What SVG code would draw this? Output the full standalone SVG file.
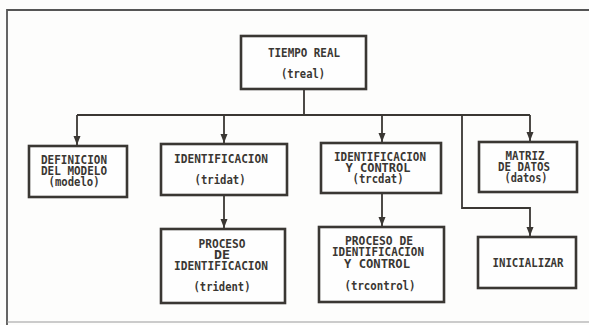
<svg xmlns="http://www.w3.org/2000/svg" width="589" height="325" viewBox="0 0 589 325">
<style>
.box{fill:#fefefe;stroke:#3a3733;stroke-width:2.6}
.ln{fill:none;stroke:#3a3733;stroke-width:1.8}
text{font-family:"DejaVu Sans Mono","Liberation Mono",monospace;font-weight:bold;font-size:12px;fill:#3a3733;text-anchor:middle}
</style>
<defs>
<marker id="ar" markerWidth="8" markerHeight="10" refX="4" refY="9" orient="auto-start-reverse" markerUnits="userSpaceOnUse" viewBox="0 0 8 10">
<path d="M0.5,0 L7.5,0 L4,10 Z" fill="#3a3733" transform="rotate(0)"/>
</marker>
</defs>
<rect width="589" height="325" fill="#fdfdfc"/>
<g id="frame" fill="none" stroke="#555" stroke-width="1.8">
<path d="M7,325 L7,10 L589,10"/>
<path d="M7,322 L589,322" stroke="#999" stroke-width="1.2"/>
</g>
<g id="connectors">
<path class="ln" d="M304,89 V115 M77,115 H530"/>
<path class="ln" d="M77,115 V145"/>
<path class="ln" d="M224,115 V143"/>
<path class="ln" d="M382,115 V142"/>
<path class="ln" d="M530,115 V141"/>
<path class="ln" d="M462,115 V208 H530 V236"/>
<path class="ln" d="M224,195 V228"/>
<path class="ln" d="M382,193 V226"/>
<g fill="#3a3733">
<path d="M73.5,136 L80.5,136 L77,145 Z"/>
<path d="M220.5,134 L227.5,134 L224,143 Z"/>
<path d="M378.5,133 L385.5,133 L382,142 Z"/>
<path d="M526.5,132 L533.5,132 L530,141 Z"/>
<path d="M526.5,227 L533.5,227 L530,236 Z"/>
<path d="M220.5,219 L227.5,219 L224,228 Z"/>
<path d="M378.5,217 L385.5,217 L382,226 Z"/>
</g>
</g>
<g id="treal">
<rect class="box" x="241" y="36" width="125" height="53"/>
<text x="304" y="57" textLength="72" lengthAdjust="spacingAndGlyphs">TIEMPO REAL</text>
<text x="303" y="78" textLength="44" lengthAdjust="spacingAndGlyphs">(treal)</text>
</g>
<g id="modelo">
<rect class="box" x="29" y="146" width="98" height="51"/>
<text x="74" y="164" textLength="66" lengthAdjust="spacingAndGlyphs">DEFINICION</text>
<text x="74" y="175" textLength="66" lengthAdjust="spacingAndGlyphs">DEL MODELO</text>
<text x="74" y="186" textLength="51" lengthAdjust="spacingAndGlyphs">(modelo)</text>
</g>
<g id="tridat">
<rect class="box" x="161" y="144" width="126" height="51"/>
<text x="221" y="163" textLength="94" lengthAdjust="spacingAndGlyphs">IDENTIFICACION</text>
<text x="220" y="184" textLength="51" lengthAdjust="spacingAndGlyphs">(tridat)</text>
</g>
<g id="trcdat">
<rect class="box" x="321" y="143" width="120" height="50"/>
<text x="380" y="161" textLength="92" lengthAdjust="spacingAndGlyphs">IDENTIFICACION</text>
<text x="378" y="172" textLength="65" lengthAdjust="spacingAndGlyphs">Y CONTROL</text>
<text x="378" y="183" textLength="51" lengthAdjust="spacingAndGlyphs">(trcdat)</text>
</g>
<g id="datos">
<rect class="box" x="479" y="142" width="98" height="50"/>
<text x="525" y="160" textLength="39" lengthAdjust="spacingAndGlyphs">MATRIZ</text>
<text x="524" y="171" textLength="52" lengthAdjust="spacingAndGlyphs">DE DATOS</text>
<text x="526" y="182" textLength="43" lengthAdjust="spacingAndGlyphs">(datos)</text>
</g>
<g id="trident">
<rect class="box" x="161" y="229" width="124" height="74"/>
<text x="222" y="248" textLength="47" lengthAdjust="spacingAndGlyphs">PROCESO</text>
<text x="222" y="259" textLength="16" lengthAdjust="spacingAndGlyphs">DE</text>
<text x="221" y="270" textLength="94" lengthAdjust="spacingAndGlyphs">IDENTIFICACION</text>
<text x="222" y="291" textLength="57" lengthAdjust="spacingAndGlyphs">(trident)</text>
</g>
<g id="trcontrol">
<rect class="box" x="319" y="227" width="125" height="75"/>
<text x="379" y="245" textLength="68" lengthAdjust="spacingAndGlyphs">PROCESO DE</text>
<text x="378" y="256" textLength="92" lengthAdjust="spacingAndGlyphs">IDENTIFICACION</text>
<text x="377" y="268" textLength="66" lengthAdjust="spacingAndGlyphs">Y CONTROL</text>
<text x="380" y="290" textLength="71" lengthAdjust="spacingAndGlyphs">(trcontrol)</text>
</g>
<g id="inicializar">
<rect class="box" x="478" y="237" width="98" height="51"/>
<text x="528" y="267" textLength="71" lengthAdjust="spacingAndGlyphs">INICIALIZAR</text>
</g>
</svg>
